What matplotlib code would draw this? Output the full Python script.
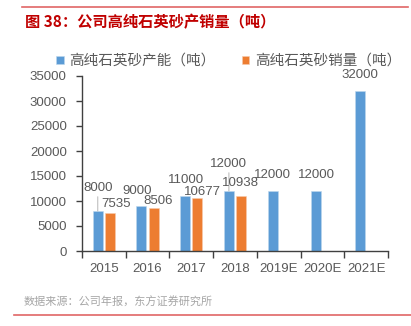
import matplotlib
matplotlib.use("Agg")
from matplotlib import pyplot as plt
from matplotlib.lines import Line2D
import numpy as np

plt.rcParams["font.family"] = ["Liberation Sans", "Noto Sans CJK SC", "DejaVu Sans"]

years = ["2015", "2016", "2017", "2018", "2019E", "2020E", "2021E"]
capacity = [8000, 9000, 11000, 12000, 12000, 12000, 32000]
sales = [7535, 8506, 10677, 10938]

# label offsets in pixels (dx, dy above bar top) - excel placed some labels by hand
cap_offsets = [(0, 23), (-4, 15), (1, 16), (0, 27), (0, 16), (0, 16), (0, 16)]
sales_offsets = [(6, 9), (4, 7), (5, 6), (-1, 13)]
cap_leader = [True, False, False, True, False, False, False]

blue = "#5B9BD5"
orange = "#ED7D31"
text_gray = "#595959"

fig = plt.figure(figsize=(4.11, 3.26), dpi=100)
ax = fig.add_axes([82 / 411, 75 / 326, 306 / 411, 175 / 326])

x = np.arange(len(years))
w = 0.23
off = 0.14
ax.bar(x - off, capacity, width=w, color=blue, edgecolor="#BDD7EE", linewidth=0.4,
       label="高纯石英砂产能（吨）", zorder=2)
ax.bar(x[:len(sales)] + off, sales, width=w, color=orange, edgecolor="#F8CBAD",
       linewidth=0.4, label="高纯石英砂销量（吨）", zorder=2)

px = 72 / 100  # pixels -> points
for i, v in enumerate(capacity):
    dx, dy = cap_offsets[i]
    ax.annotate(f"{v}", xy=(x[i] - off, v), xytext=(dx * px, dy * px),
                textcoords="offset points", ha="center", va="center",
                fontsize=9.5, color=text_gray, zorder=3,
                arrowprops=dict(arrowstyle="-", color="#BFBFBF", lw=0.8,
                                shrinkA=0, shrinkB=0) if cap_leader[i] else None)
for i, v in enumerate(sales):
    dx, dy = sales_offsets[i]
    ax.annotate(f"{v}", xy=(x[i] + off, v), xytext=(dx * px, dy * px),
                textcoords="offset points", ha="center", va="center",
                fontsize=9.5, color=text_gray, zorder=3)

ax.set_xlim(-0.5, len(years) - 0.5)
ax.set_ylim(0, 35000)
ax.set_yticks(range(0, 35001, 5000))
ax.set_xticks(x)
ax.set_xticklabels(years)
ax.set_xticks(np.arange(-0.5, len(years), 1), minor=True)
ax.tick_params(axis="x", which="major", length=0, pad=9, labelsize=9.5, labelcolor=text_gray)
ax.tick_params(axis="x", which="minor", length=5, width=1, color="#404040", direction="out")
ax.tick_params(axis="y", length=4, width=1, color="#404040", pad=7, labelsize=9.5,
               labelcolor=text_gray)

for side in ["top", "right"]:
    ax.spines[side].set_visible(False)
for side in ["left", "bottom"]:
    ax.spines[side].set_color("#404040")
    ax.spines[side].set_linewidth(1.0)

ax.legend(loc="center", bbox_to_anchor=(0.48, 1 + 15 / 175), ncol=2, frameon=False,
          prop={"family": ["Noto Sans CJK SC"], "size": 10.5}, labelcolor=text_gray,
          handlelength=0.5, handleheight=0.5, handletextpad=0.4, columnspacing=1.8,
          borderpad=0, borderaxespad=0)

# header / footer decoration
fig.add_artist(Line2D([22 / 411, 408 / 411], [1 - 7 / 326] * 2, color="#E06666", lw=1.2))
fig.add_artist(Line2D([14 / 411, 1.0], [1 - 315 / 326] * 2, color="#E06666", lw=1.2))
fig.text(25 / 411, 1 - 22 / 326, "图 38：公司高纯石英砂产销量（吨）", ha="left", va="center",
         fontsize=11, fontweight="bold", color="#C00000",
         family=["Noto Sans CJK SC", "DejaVu Sans"])
fig.text(24 / 411, 1 - 302 / 326, "数据来源：公司年报，东方证券研究所", ha="left", va="center",
         fontsize=8, color="#A6A6A6", family=["Noto Sans CJK SC", "DejaVu Sans"])

fig.savefig("out.png", dpi=100)
